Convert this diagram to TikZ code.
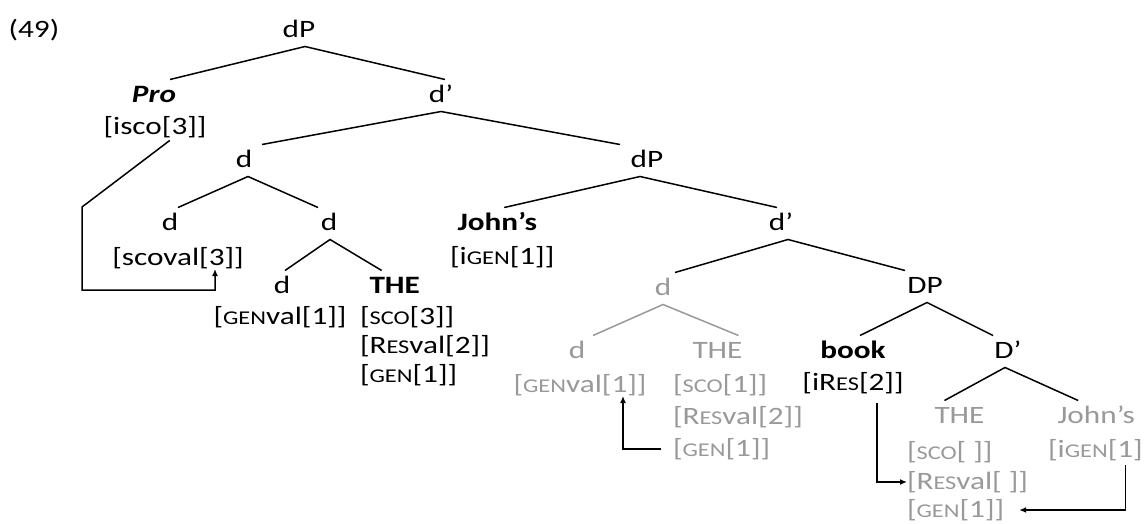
\documentclass[tikz,border=0pt]{standalone}
\usepackage{fontspec}
\setmainfont[FakeStretch=1.25]{Carlito}
\usetikzlibrary{arrows.meta}

\definecolor{faded}{gray}{0.6}
% small capitals, faked by size
\newcommand{\fsc}[1]{{\fontsize{19.5}{19.5}\selectfont #1}}

\begin{document}
\begin{tikzpicture}[x=1pt,y=-1pt,
  every node/.style={font=\fontsize{25}{29}\selectfont},
  word/.style={inner sep=0pt,outer sep=4.5pt,text height=18pt,text depth=5pt,anchor=base},
  feat/.style={inner sep=0pt,outer sep=0pt,text height=18pt,text depth=4pt,anchor=base},
  branch/.style={line width=1.5pt},
  link/.style={line width=1.5pt,-{Latex[length=7pt,width=6pt]}}]

\useasboundingbox (0,0) rectangle (1144,523);

\node[word] (ex) at (34,37) {(49)};

% upper part
\node[word] (top) at (299,37) {dP};
\node[word] (pro) at (154,102) {\textbf{\textit{Pro}}};
\node[feat] (isco) at (155,134) {[isco[3]]};
\node[word] (dbar) at (441,102) {d’};
\node[word] (dhead) at (244,167) {d};
\node[word] (poss) at (647,167) {dP};
\node[word] (dspec) at (170,230) {d};
\node[feat] (scoval) at (178,265) {[scoval[3]]};
\node[word] (dhd) at (329,230) {d};
\node[word] (dlow) at (282,293) {d};
\node[feat] (genval) at (280,324) {[\fsc{GEN}val[1]]};
\node[word,anchor=base west] (the) at (365,293) {\textbf{THE}};
\node[feat,anchor=base west] (thesco) at (360,324) {[\fsc{SCO}[3]]};
\node[feat,anchor=base west] (theres) at (360,353) {[R\fsc{ES}val[2]]};
\node[feat,anchor=base west] (thegen) at (360,382) {[\fsc{GEN}[1]]};

% possessor
\node[word,anchor=base west] (john) at (453,230) {\textbf{John’s}};
\node[feat,anchor=base west] (johngen) at (450,264) {[i\fsc{GEN}[1]]};
\node[word] (possbar) at (781,230) {d’};
\node[word,text=faded] (cd) at (663,295) {d};
\node[word] (bigdp) at (925,293) {DP};
\node[word,text=faded] (cdd) at (577,358) {d};
\node[feat,text=faded] (cgenval) at (580,392) {[\fsc{GEN}val[1]]};
\node[word,anchor=base west,text=faded] (cthe) at (688,358) {THE};
\node[feat,anchor=base west,text=faded] (cthesco) at (673,392) {[\fsc{SCO}[1]]};
\node[feat,anchor=base west,text=faded] (ctheres) at (673,424) {[R\fsc{ES}val[2]]};
\node[feat,anchor=base west,text=faded] (cthegen) at (673,456) {[\fsc{GEN}[1]]};

% lower DP
\node[word] (book) at (853,358) {\textbf{book}};
\node[feat] (bookres) at (853,390) {[iR\fsc{ES}[2]]};
\node[word] (bigbar) at (1008,358) {D’};
\node[word,anchor=base west,text=faded] (lthe) at (930,423) {THE};
\node[feat,anchor=base west,text=faded] (lthesco) at (907,459) {[\fsc{SCO}[ ]]};
\node[feat,anchor=base west,text=faded] (ltheres) at (907,489) {[R\fsc{ES}val[ ]]};
\node[feat,anchor=base west,text=faded] (lthegen) at (907,517) {[\fsc{GEN}[1]]};
\node[word,anchor=base west,text=faded] (ljohn) at (1053,423) {John’s};
\node[feat,anchor=base west,text=faded] (ljohngen) at (1048,457) {[i\fsc{GEN}[1]};

% branches
\draw[branch] ([xshift=16pt]pro.north) -- ([xshift=6pt]top.south) -- ([xshift=4pt]dbar.north);
\draw[branch] ([xshift=18pt]dhead.north) -- (dbar.south) -- ([xshift=-27pt]poss.north);
\draw[branch] ([xshift=8pt]dspec.north) -- ([xshift=4pt]dhead.south) -- ([xshift=-11pt]dhd.north);
\draw[branch] ([xshift=3pt]dlow.north) -- ([xshift=1pt]dhd.south) -- ([xshift=-13pt]the.north);
\draw[branch] ([xshift=7pt]john.north) -- ([xshift=-7pt]poss.south) -- ([xshift=-4pt]possbar.north);
\draw[branch] ([xshift=12pt]cd.north) -- ([xshift=7pt]possbar.south) -- ([xshift=-20pt]bigdp.north);
\draw[branch,faded] ([xshift=16pt]cdd.north) -- (cd.south) -- ([xshift=21pt]cthe.north);
\draw[branch] ([xshift=7pt]book.north) -- ([xshift=2pt]bigdp.south) -- ([xshift=-15pt]bigbar.north);
\draw[branch] ([xshift=-15pt]lthe.north) -- ([xshift=-3pt]bigbar.south) -- ([xshift=-18pt]ljohn.north);

% feature sharing
\draw[link,shorten <=4pt] ([xshift=18pt]isco.south) -- ++(-91,69) -- ++(0,83) -| ([xshift=37pt]scoval.south);
\draw[link,shorten <=12pt] (cthegen.west) -| ([xshift=43pt]cgenval.south);
\draw[link,shorten <=9pt] ([xshift=24pt]bookres.south) |- (ltheres.west);
\draw[link,shorten <=4pt,shorten >=15pt] ([xshift=30pt]ljohngen.south) |- (lthegen.east);
\end{tikzpicture}
\end{document}
